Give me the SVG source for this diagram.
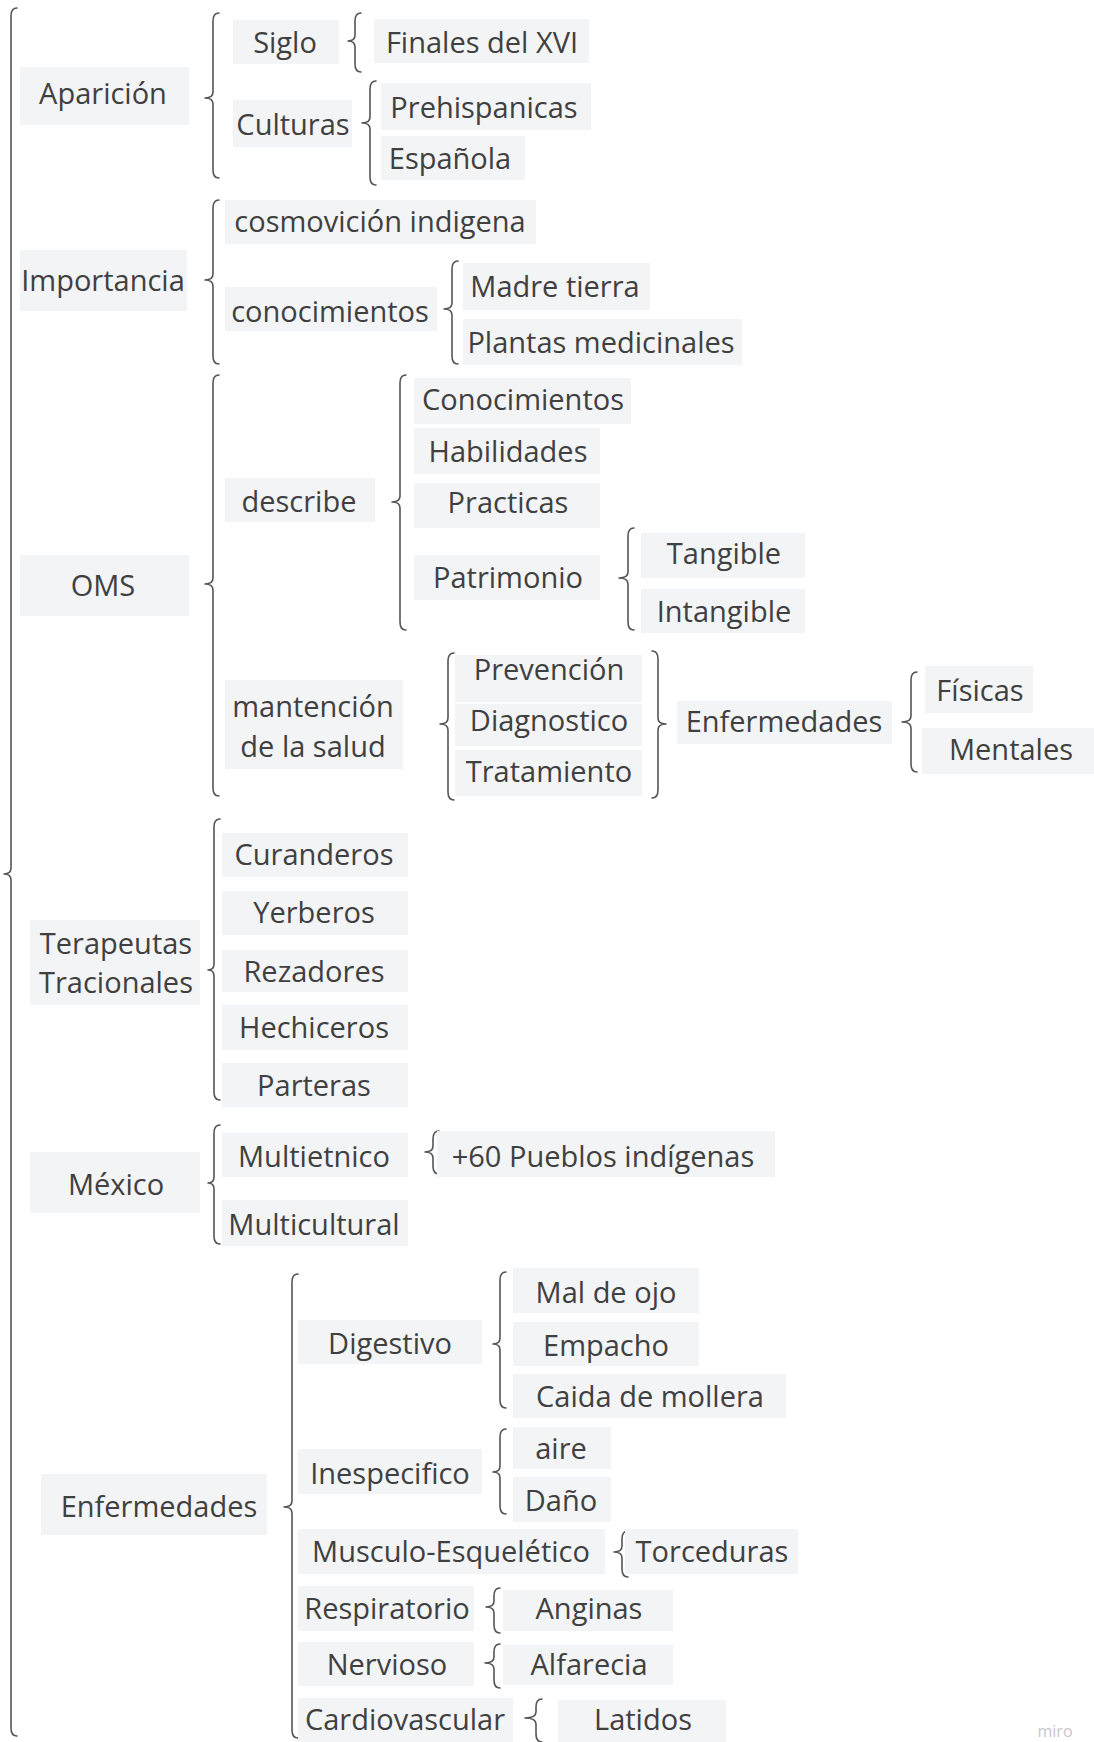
<svg xmlns="http://www.w3.org/2000/svg" width="1094" height="1742" viewBox="0 0 1094 1742">
<style>
.b{fill:#f3f4f6;stroke:none}
.t{font-family:"Open Sans","Noto Sans",sans-serif;font-size:29px;fill:#404040;text-anchor:middle;dominant-baseline:central}
.br{fill:none;stroke:#555;stroke-width:1.6;stroke-linecap:round;stroke-linejoin:round}
.wm{font-family:"Open Sans",sans-serif;font-size:16px;fill:#c8c8c8;text-anchor:middle;dominant-baseline:central}
</style>
<rect width="1094" height="1742" fill="#ffffff"/>
<g id="connectors">
<path class="br" d="M17 8 Q11 8 11 16 V868 Q11 874 4 874 Q11 874 11 880 V1728 Q11 1736 17 1736"/>
<path class="br" d="M219 13 Q213 13 213 21 V92 Q213 98 205 98 Q213 98 213 104 V170 Q213 178 219 178"/>
<path class="br" d="M361 13 Q355 13 355 21 V35 Q355 41 348 41 Q355 41 355 47 V64 Q355 72 361 72"/>
<path class="br" d="M376 81 Q370 81 370 89 V117 Q370 123 362 123 Q370 123 370 129 V177 Q370 185 376 185"/>
<path class="br" d="M219 200 Q213 200 213 208 V274 Q213 280 205 280 Q213 280 213 286 V356 Q213 364 219 364"/>
<path class="br" d="M458 261 Q452 261 452 269 V303 Q452 309 444 309 Q452 309 452 315 V356 Q452 364 458 364"/>
<path class="br" d="M219 375 Q213 375 213 383 V578 Q213 584 205 584 Q213 584 213 590 V788 Q213 796 219 796"/>
<path class="br" d="M406 375 Q400 375 400 383 V496 Q400 502 392 502 Q400 502 400 508 V622 Q400 630 406 630"/>
<path class="br" d="M634 528 Q628 528 628 536 V572 Q628 578 619 578 Q628 578 628 584 V622 Q628 630 634 630"/>
<path class="br" d="M454 653 Q448 653 448 661 V718 Q448 724 440 724 Q448 724 448 730 V792 Q448 800 454 800"/>
<path class="br" d="M652 651 Q658 651 658 659 V718 Q658 724 666 724 Q658 724 658 730 V790 Q658 798 652 798"/>
<path class="br" d="M917 672 Q911 672 911 680 V716 Q911 722 902 722 Q911 722 911 728 V764 Q911 772 917 772"/>
<path class="br" d="M220 819 Q214 819 214 827 V964 Q214 970 208 970 Q214 970 214 976 V1092 Q214 1100 220 1100"/>
<path class="br" d="M220 1125 Q214 1125 214 1133 V1177 Q214 1183 208 1183 Q214 1183 214 1189 V1236 Q214 1244 220 1244"/>
<path class="br" d="M439 1131 Q433 1131 433 1139 V1146 Q433 1152 425 1152 Q433 1152 433 1158 V1166 Q433 1174 439 1174"/>
<path class="br" d="M298 1274 Q292 1274 292 1282 V1501 Q292 1507 284 1507 Q292 1507 292 1513 V1730 Q292 1738 298 1738"/>
<path class="br" d="M506 1272 Q500 1272 500 1280 V1338 Q500 1344 493 1344 Q500 1344 500 1350 V1400 Q500 1408 506 1408"/>
<path class="br" d="M506 1429 Q500 1429 500 1437 V1466 Q500 1472 493 1472 Q500 1472 500 1478 V1506 Q500 1514 506 1514"/>
<path class="br" d="M628 1531 Q622 1531 622 1539 V1546 Q622 1552 614 1552 Q622 1552 622 1558 V1569 Q622 1577 628 1577"/>
<path class="br" d="M500 1588 Q494 1588 494 1596 V1601 Q494 1607 486 1607 Q494 1607 494 1613 V1625 Q494 1633 500 1633"/>
<path class="br" d="M500 1644 Q494 1644 494 1652 V1657 Q494 1663 485 1663 Q494 1663 494 1669 V1680 Q494 1688 500 1688"/>
<path class="br" d="M542 1699 Q536 1699 536 1707 V1712 Q536 1718 525 1718 Q536 1718 536 1724 V1734 Q536 1742 542 1742"/>
</g>
<g id="n-aparicion"><rect class="b" x="20" y="67" width="169" height="58"/><text class="t" x="103" y="92">Aparición</text></g>
<g id="n-siglo"><rect class="b" x="233" y="20" width="106" height="44"/><text class="t" x="285" y="41">Siglo</text></g>
<g id="n-finales"><rect class="b" x="374" y="19" width="215" height="44"/><text class="t" x="482" y="41">Finales del XVI</text></g>
<g id="n-culturas"><rect class="b" x="233" y="100" width="119" height="47"/><text class="t" x="293" y="123">Culturas</text></g>
<g id="n-prehispanicas"><rect class="b" x="381" y="83" width="210" height="47"/><text class="t" x="484" y="106">Prehispanicas</text></g>
<g id="n-espanola"><rect class="b" x="381" y="136" width="144" height="44"/><text class="t" x="450" y="157">Española</text></g>
<g id="n-importancia"><rect class="b" x="20" y="250" width="167" height="61"/><text class="t" x="103" y="279">Importancia</text></g>
<g id="n-cosmovicion"><rect class="b" x="225" y="200" width="311" height="44"/><text class="t" x="380" y="220">cosmovición indigena</text></g>
<g id="n-conocimientos1"><rect class="b" x="225" y="287" width="212" height="44"/><text class="t" x="330" y="310">conocimientos</text></g>
<g id="n-madre"><rect class="b" x="463" y="263" width="187" height="47"/><text class="t" x="555" y="285">Madre tierra</text></g>
<g id="n-plantas"><rect class="b" x="463" y="319" width="279" height="46"/><text class="t" x="601" y="341">Plantas medicinales</text></g>
<g id="n-oms"><rect class="b" x="20" y="555" width="169" height="61"/><text class="t" x="103" y="584">OMS</text></g>
<g id="n-describe"><rect class="b" x="225" y="478" width="150" height="44"/><text class="t" x="299" y="500">describe</text></g>
<g id="n-conocimientos2"><rect class="b" x="414" y="378" width="217" height="46"/><text class="t" x="523" y="398">Conocimientos</text></g>
<g id="n-habilidades"><rect class="b" x="414" y="428" width="186" height="46"/><text class="t" x="508" y="450">Habilidades</text></g>
<g id="n-practicas"><rect class="b" x="414" y="483" width="186" height="45"/><text class="t" x="508" y="501">Practicas</text></g>
<g id="n-patrimonio"><rect class="b" x="414" y="555" width="186" height="45"/><text class="t" x="508" y="576">Patrimonio</text></g>
<g id="n-tangible"><rect class="b" x="641" y="533" width="164" height="45"/><text class="t" x="724" y="552">Tangible</text></g>
<g id="n-intangible"><rect class="b" x="641" y="589" width="164" height="44"/><text class="t" x="724" y="610">Intangible</text></g>
<g id="n-mantencion"><rect class="b" x="225" y="680" width="178" height="89"/><text class="t" x="313"><tspan x="313" y="705">mantención</tspan><tspan x="313" y="745">de la salud</tspan></text></g>
<g id="n-prevencion"><rect class="b" x="455" y="655" width="187" height="47"/><text class="t" x="549" y="668">Prevención</text></g>
<g id="n-diagnostico"><rect class="b" x="455" y="704" width="187" height="42"/><text class="t" x="549" y="719">Diagnostico</text></g>
<g id="n-tratamiento"><rect class="b" x="455" y="750" width="187" height="46"/><text class="t" x="549" y="770">Tratamiento</text></g>
<g id="n-enf-oms"><rect class="b" x="677" y="701" width="215" height="43"/><text class="t" x="784" y="720">Enfermedades</text></g>
<g id="n-fisicas"><rect class="b" x="925" y="666" width="108" height="47"/><text class="t" x="980" y="689">Físicas</text></g>
<g id="n-mentales"><rect class="b" x="922" y="728" width="172" height="46"/><text class="t" x="1011" y="748">Mentales</text></g>
<g id="n-terapeutas"><rect class="b" x="30" y="920" width="170" height="85"/><text class="t" x="116"><tspan x="116" y="942">Terapeutas</tspan><tspan x="116" y="981">Tracionales</tspan></text></g>
<g id="n-curanderos"><rect class="b" x="222" y="833" width="186" height="44"/><text class="t" x="314" y="853">Curanderos</text></g>
<g id="n-yerberos"><rect class="b" x="222" y="891" width="186" height="44"/><text class="t" x="314" y="911">Yerberos</text></g>
<g id="n-rezadores"><rect class="b" x="222" y="950" width="186" height="42"/><text class="t" x="314" y="970">Rezadores</text></g>
<g id="n-hechiceros"><rect class="b" x="222" y="1005" width="186" height="45"/><text class="t" x="314" y="1026">Hechiceros</text></g>
<g id="n-parteras"><rect class="b" x="222" y="1063" width="186" height="44"/><text class="t" x="314" y="1084">Parteras</text></g>
<g id="n-mexico"><rect class="b" x="30" y="1152" width="170" height="61"/><text class="t" x="116" y="1183">México</text></g>
<g id="n-multietnico"><rect class="b" x="222" y="1133" width="186" height="44"/><text class="t" x="314" y="1155">Multietnico</text></g>
<g id="n-pueblos"><rect class="b" x="437" y="1131" width="338" height="46"/><text class="t" x="603" y="1155">+60 Pueblos indígenas</text></g>
<g id="n-multicultural"><rect class="b" x="222" y="1200" width="186" height="46"/><text class="t" x="314" y="1223">Multicultural</text></g>
<g id="n-enfermedades"><rect class="b" x="41" y="1474" width="226" height="61"/><text class="t" x="159" y="1505">Enfermedades</text></g>
<g id="n-digestivo"><rect class="b" x="298" y="1320" width="184" height="44"/><text class="t" x="390" y="1342">Digestivo</text></g>
<g id="n-maldeojo"><rect class="b" x="513" y="1268" width="186" height="45"/><text class="t" x="606" y="1291">Mal de ojo</text></g>
<g id="n-empacho"><rect class="b" x="513" y="1322" width="186" height="44"/><text class="t" x="606" y="1344">Empacho</text></g>
<g id="n-caida"><rect class="b" x="513" y="1374" width="273" height="44"/><text class="t" x="650" y="1395">Caida de mollera</text></g>
<g id="n-inespecifico"><rect class="b" x="298" y="1449" width="184" height="45"/><text class="t" x="390" y="1472">Inespecifico</text></g>
<g id="n-aire"><rect class="b" x="513" y="1427" width="98" height="42"/><text class="t" x="561" y="1447">aire</text></g>
<g id="n-dano"><rect class="b" x="513" y="1477" width="98" height="45"/><text class="t" x="561" y="1499">Daño</text></g>
<g id="n-musculo"><rect class="b" x="298" y="1529" width="307" height="45"/><text class="t" x="451" y="1550">Musculo-Esquelético</text></g>
<g id="n-torceduras"><rect class="b" x="625" y="1529" width="173" height="45"/><text class="t" x="712" y="1550">Torceduras</text></g>
<g id="n-respiratorio"><rect class="b" x="298" y="1586" width="176" height="45"/><text class="t" x="387" y="1607">Respiratorio</text></g>
<g id="n-anginas"><rect class="b" x="503" y="1590" width="170" height="41"/><text class="t" x="589" y="1607">Anginas</text></g>
<g id="n-nervioso"><rect class="b" x="298" y="1642" width="176" height="44"/><text class="t" x="387" y="1663">Nervioso</text></g>
<g id="n-alfarecia"><rect class="b" x="503" y="1645" width="170" height="40"/><text class="t" x="589" y="1663">Alfarecia</text></g>
<g id="n-cardiovascular"><rect class="b" x="298" y="1698" width="215" height="44"/><text class="t" x="405" y="1718">Cardiovascular</text></g>
<g id="n-latidos"><rect class="b" x="558" y="1700" width="168" height="42"/><text class="t" x="643" y="1718">Latidos</text></g>
<text class="wm" x="1055" y="1731">miro</text>
</svg>
